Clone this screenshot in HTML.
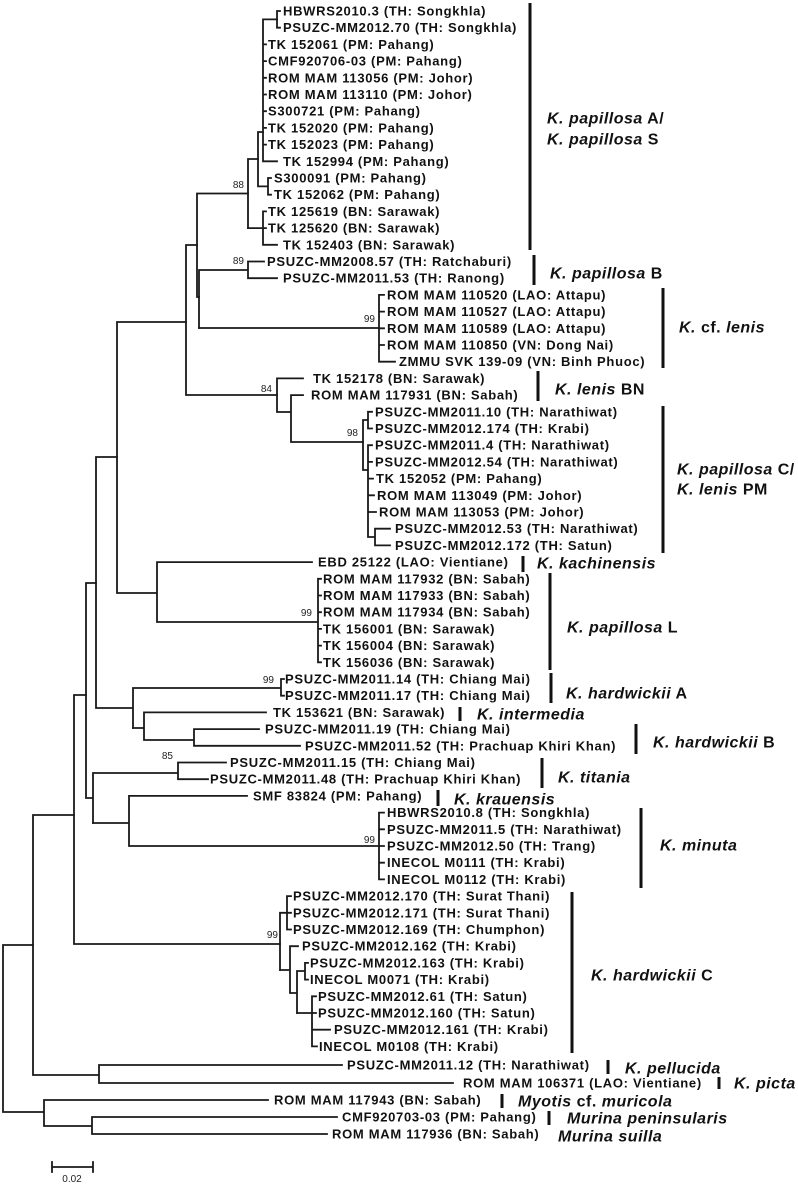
<!DOCTYPE html>
<html><head><meta charset="utf-8"><style>
html,body{margin:0;padding:0;background:#fff;}
svg{display:block;}
.t{font-family:"Liberation Sans",Arial,sans-serif;font-weight:bold;font-size:13px;letter-spacing:0.7px;fill:#111;}
.s{font-family:"Liberation Sans",Arial,sans-serif;font-weight:bold;font-size:16px;letter-spacing:0.5px;fill:#111;}
.i{font-style:italic;}
.b{font-family:"Liberation Sans",Arial,sans-serif;font-size:10px;fill:#222;}
</style></head><body>
<svg width="798" height="1186" viewBox="0 0 798 1186" xmlns="http://www.w3.org/2000/svg">
<g fill="none" stroke="#1a1a1a" stroke-width="1.8" stroke-linecap="square">
<path d="M277 11V27.7M277 11H280M277 27.7H280"/>
<path d="M263 19.4V161.3M263 19.4H277M263 44.4H266M263 61.1H266M263 77.8H266M263 94.5H266M263 111.2H266M263 127.9H266M263 144.6H266M263 161.3H277"/>
<path d="M258 132V186.4M258 132H263M258 186.4H268M268 178V194.7M268 178H271M268 194.7H271"/>
<path d="M263 211.4V244.8M263 211.4H266M263 228.1H266M263 244.8H277M248 228.1H263"/>
<path d="M248 159V228.1M248 159H258"/>
<path d="M197 193.5V297M197 193.5H248M197 297H199"/>
<path d="M199 270V328M199 270H248M248 261.5V278.2M248 261.5H264M248 278.2H277"/>
<path d="M199 328H379M379 294.9V361.7M379 294.9H384M379 311.6H384M379 328.3H384M379 345H384M379 361.7H395"/>
<path d="M186 245V395M186 245H197M186 395H277"/>
<path d="M277 378.4V412M277 378.4H303M277 412H291M291 395.1V442M291 395.1H303M291 442H363"/>
<path d="M363 420V470M363 420H368M368 411.8V428.5M368 411.8H372M368 428.5H372M363 470H368M368 445.2V537M368 445.2H372M368 461.9H372M368 478.6H373M368 495.3H374M368 512H376M368 537H375M375 528.7V545.4M375 528.7H390M375 545.4H390"/>
<path d="M117 322V593M117 322H186M117 593H157M157 562.1V622M157 562.1H312M157 622H318M318 578.8V662.3M318 578.8H321M318 595.5H321M318 612.2H321M318 628.9H321M318 645.6H321M318 662.3H321"/>
<path d="M96 457V708M96 457H117M96 708H133M133 688V728M133 688H281M281 679V695.7M281 679H284M281 695.7H284"/>
<path d="M133 728H144M144 712.4V740M144 712.4H266M144 740H194M194 729.1V745.8M194 729.1H259M194 745.8H300"/>
<path d="M86 583V798M86 583H96M86 798H93M93 773V823M93 773H178M178 762.5V779.2M178 762.5H226M178 779.2H208"/>
<path d="M93 823H129M129 795.9V846M129 795.9H247M129 846H379M379 812.6V879.4M379 812.6H384M379 829.3H384M379 846H384M379 862.7H384M379 879.4H384"/>
<path d="M74 695V944M74 695H86M74 944H280"/>
<path d="M280 912.8V970M280 912.8H287M287 896.1V929.5M287 896.1H291M287 912.8H291M287 929.5H291"/>
<path d="M280 970H290M290 946.2V993M290 946.2H298M290 993H297M297 971V1013M297 971H305M305 962.9V979.6M305 962.9H308M305 979.6H308"/>
<path d="M297 1013H312M312 996.3V1046.4M312 996.3H316M312 1013H316M312 1029.7H330M312 1046.4H317"/>
<path d="M33 815V1075M33 815H74M33 1075H99M99 1065V1083M99 1065H342M99 1083H453"/>
<path d="M3 945V1112M3 945H33M3 1112H44M44 1100V1126M44 1100H268M44 1126H92M92 1117V1134M92 1117H337M92 1134H327"/>
<path d="M52 1167H93M52 1162V1172M93 1162V1172"/>
</g>
<text class="b" x="72" y="1182" text-anchor="middle" font-size="11">0.02</text>
<g class="b" text-anchor="end">
<text x="244" y="188">88</text>
<text x="244" y="264">89</text>
<text x="375" y="322">99</text>
<text x="272" y="392">84</text>
<text x="358" y="436">98</text>
<text x="312" y="616">99</text>
<text x="274" y="683">99</text>
<text x="173" y="759">85</text>
<text x="375" y="843">99</text>
<text x="278" y="938">99</text>
</g>
<g class="t">
<text x="283" y="15.5">HBWRS2010.3 (TH: Songkhla)</text>
<text x="283" y="32.2">PSUZC-MM2012.70 (TH: Songkhla)</text>
<text x="268" y="48.9">TK 152061 (PM: Pahang)</text>
<text x="268" y="65.6">CMF920706-03 (PM: Pahang)</text>
<text x="268" y="82.3">ROM MAM 113056 (PM: Johor)</text>
<text x="268" y="99">ROM MAM 113110 (PM: Johor)</text>
<text x="268" y="115.7">S300721 (PM: Pahang)</text>
<text x="268" y="132.4">TK 152020 (PM: Pahang)</text>
<text x="268" y="149.1">TK 152023 (PM: Pahang)</text>
<text x="283" y="165.8">TK 152994 (PM: Pahang)</text>
<text x="274" y="182.5">S300091 (PM: Pahang)</text>
<text x="274" y="199.2">TK 152062 (PM: Pahang)</text>
<text x="268" y="215.9">TK 125619 (BN: Sarawak)</text>
<text x="268" y="232.6">TK 125620 (BN: Sarawak)</text>
<text x="283" y="249.3">TK 152403 (BN: Sarawak)</text>
<text x="267" y="266">PSUZC-MM2008.57 (TH: Ratchaburi)</text>
<text x="283" y="282.7">PSUZC-MM2011.53 (TH: Ranong)</text>
<text x="387" y="299.4">ROM MAM 110520 (LAO: Attapu)</text>
<text x="387" y="316.1">ROM MAM 110527 (LAO: Attapu)</text>
<text x="387" y="332.8">ROM MAM 110589 (LAO: Attapu)</text>
<text x="387" y="349.5">ROM MAM 110850 (VN: Dong Nai)</text>
<text x="399" y="366.2">ZMMU SVK 139-09 (VN: Binh Phuoc)</text>
<text x="313" y="382.9">TK 152178 (BN: Sarawak)</text>
<text x="311" y="399.6">ROM MAM 117931 (BN: Sabah)</text>
<text x="375" y="416.3">PSUZC-MM2011.10 (TH: Narathiwat)</text>
<text x="375" y="433">PSUZC-MM2012.174 (TH: Krabi)</text>
<text x="375" y="449.7">PSUZC-MM2011.4 (TH: Narathiwat)</text>
<text x="375" y="466.4">PSUZC-MM2012.54 (TH: Narathiwat)</text>
<text x="376" y="483.1">TK 152052 (PM: Pahang)</text>
<text x="377" y="499.8">ROM MAM 113049 (PM: Johor)</text>
<text x="379" y="516.5">ROM MAM 113053 (PM: Johor)</text>
<text x="395" y="533.2">PSUZC-MM2012.53 (TH: Narathiwat)</text>
<text x="395" y="549.9">PSUZC-MM2012.172 (TH: Satun)</text>
<text x="318" y="566.6">EBD 25122 (LAO: Vientiane)</text>
<text x="323" y="583.3">ROM MAM 117932 (BN: Sabah)</text>
<text x="323" y="600">ROM MAM 117933 (BN: Sabah)</text>
<text x="323" y="616.7">ROM MAM 117934 (BN: Sabah)</text>
<text x="323" y="633.4">TK 156001 (BN: Sarawak)</text>
<text x="323" y="650.1">TK 156004 (BN: Sarawak)</text>
<text x="323" y="666.8">TK 156036 (BN: Sarawak)</text>
<text x="285" y="683.5">PSUZC-MM2011.14 (TH: Chiang Mai)</text>
<text x="285" y="700.2">PSUZC-MM2011.17 (TH: Chiang Mai)</text>
<text x="273" y="716.9">TK 153621 (BN: Sarawak)</text>
<text x="265" y="733.6">PSUZC-MM2011.19 (TH: Chiang Mai)</text>
<text x="305" y="750.3">PSUZC-MM2011.52 (TH: Prachuap Khiri Khan)</text>
<text x="230" y="767">PSUZC-MM2011.15 (TH: Chiang Mai)</text>
<text x="210" y="783.7">PSUZC-MM2011.48 (TH: Prachuap Khiri Khan)</text>
<text x="253" y="800.4">SMF 83824 (PM: Pahang)</text>
<text x="387" y="817.1">HBWRS2010.8 (TH: Songkhla)</text>
<text x="387" y="833.8">PSUZC-MM2011.5 (TH: Narathiwat)</text>
<text x="387" y="850.5">PSUZC-MM2012.50 (TH: Trang)</text>
<text x="387" y="867.2">INECOL M0111 (TH: Krabi)</text>
<text x="387" y="883.9">INECOL M0112 (TH: Krabi)</text>
<text x="293" y="900.6">PSUZC-MM2012.170 (TH: Surat Thani)</text>
<text x="293" y="917.3">PSUZC-MM2012.171 (TH: Surat Thani)</text>
<text x="293" y="934">PSUZC-MM2012.169 (TH: Chumphon)</text>
<text x="302" y="950.7">PSUZC-MM2012.162 (TH: Krabi)</text>
<text x="310" y="967.4">PSUZC-MM2012.163 (TH: Krabi)</text>
<text x="310" y="984.1">INECOL M0071 (TH: Krabi)</text>
<text x="318" y="1000.8">PSUZC-MM2012.61 (TH: Satun)</text>
<text x="318" y="1017.5">PSUZC-MM2012.160 (TH: Satun)</text>
<text x="334" y="1034.2">PSUZC-MM2012.161 (TH: Krabi)</text>
<text x="319" y="1050.9">INECOL M0108 (TH: Krabi)</text>
<text x="347" y="1069.5">PSUZC-MM2011.12 (TH: Narathiwat)</text>
<text x="463" y="1087.5">ROM MAM 106371 (LAO: Vientiane)</text>
<text x="274" y="1104.5">ROM MAM 117943 (BN: Sabah)</text>
<text x="342" y="1121.5">CMF920703-03 (PM: Pahang)</text>
<text x="332" y="1138.5">ROM MAM 117936 (BN: Sabah)</text>
</g>
<g stroke="#111" stroke-width="3">
<path d="M530 3V250"/><path d="M534 255V285"/><path d="M663 288V368"/><path d="M538 371V401"/>
<path d="M663 406V553"/><path d="M523 556V572"/><path d="M550 573V670"/><path d="M551 673V703"/>
<path d="M460 707V721"/><path d="M636 724V754"/><path d="M542 758V788"/><path d="M438 790V806"/>
<path d="M641 808V888"/><path d="M572 892V1053"/><path d="M608 1060V1074"/><path d="M719 1077V1089"/>
<path d="M502 1094V1108"/><path d="M549 1111V1125"/>
</g>
<g class="s">
<text x="547" y="123.5"><tspan class="i">K. papillosa</tspan> A/</text>
<text x="547" y="144.5"><tspan class="i">K. papillosa</tspan> S</text>
<text x="550" y="278.5"><tspan class="i">K. papillosa</tspan> B</text>
<text x="679" y="332.5"><tspan class="i">K.</tspan> cf. <tspan class="i">lenis</tspan></text>
<text x="555" y="394.5"><tspan class="i">K. lenis</tspan> BN</text>
<text x="677" y="474.5"><tspan class="i">K. papillosa</tspan> C/</text>
<text x="677" y="494.5"><tspan class="i">K. lenis</tspan> PM</text>
<text x="537" y="568.5" class="i">K. kachinensis</text>
<text x="567" y="632.5"><tspan class="i">K. papillosa</tspan> L</text>
<text x="566" y="698.5"><tspan class="i">K. hardwickii</tspan> A</text>
<text x="477" y="719.5" class="i">K. intermedia</text>
<text x="653" y="747.5"><tspan class="i">K. hardwickii</tspan> B</text>
<text x="558" y="782.5" class="i">K. titania</text>
<text x="454" y="804.5" class="i">K. krauensis</text>
<text x="660" y="850.5" class="i">K. minuta</text>
<text x="591" y="980.5"><tspan class="i">K. hardwickii</tspan> C</text>
<text x="625" y="1073.5" class="i">K. pellucida</text>
<text x="734" y="1088.5" class="i">K. picta</text>
<text x="518" y="1106.5"><tspan class="i">Myotis</tspan> cf. <tspan class="i">muricola</tspan></text>
<text x="567" y="1123.5" class="i">Murina peninsularis</text>
<text x="558" y="1141.5" class="i">Murina suilla</text>
</g>
</svg>
</body></html>
